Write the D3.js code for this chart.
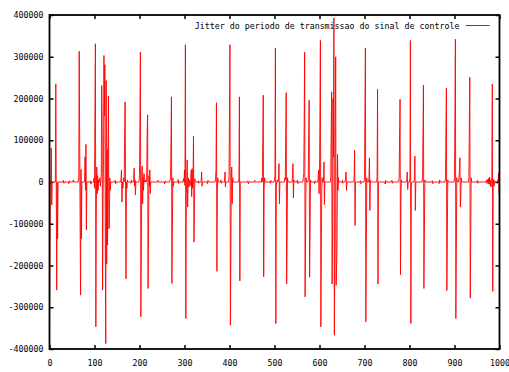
<!DOCTYPE html>
<html>
<head>
<meta charset="utf-8">
<script src="https://cdn.jsdelivr.net/npm/d3@7"></script>
<style>
  html, body { margin: 0; padding: 0; background: #fff; }
  svg { display: block; }
  text { font-family: "DejaVu Sans Mono", "Liberation Mono", monospace; font-size: 8.3px; fill: #000; }
</style>
</head>
<body>
<svg id="chart" width="509" height="372"></svg>
<script>
// ---- data ----
const seriesName = "Jitter do periodo de transmissao do sinal de controle";
const xTicks = [0, 100, 200, 300, 400, 500, 600, 700, 800, 900, 1000];
const yTicks = [-400000, -300000, -200000, -100000, 0, 100000, 200000, 300000, 400000];

// spike bursts: first sample index, then consecutive sample values
const burstStart = [0, 13, 64, 98, 158, 187, 199, 267, 297, 337, 368, 389, 398, 420,
  471, 499, 522, 539, 563, 574, 596, 624, 657, 676, 699, 709, 727, 776, 793, 828,
  879, 899, 931, 970, 995];
const burstValues = [
  [-344000, -130000, 0, 0, 81000, -55000, 0],
  [0, 235000, -20000, -259000, 0, -136000, 0],
  [0, 10000, 313000, 112000, -88000, -271000, 30000, -136000, 0, 0, 0, 0, 0, 0, 0, 60000, -20000, 90000, -115000, 0],
  [0, 10000, -15000, 172000, 331000, -347000, -60000, 36000, -28000, 15000, -20000, 5000, 0, 0, 10000, -10000, 0, 20000,
   231000, 156000, -259000, -30000, 40000, 303000, 158000, 281000, -160000, -387000, 243000, -196000, 77000, -151000,
   76000, 206000, -112000, -103000, 10000, -20000, 0],
  [0, 10000, 29000, -48000, 0, -15000, 0, 10000, 0, 116000, 192000, -10000, -232000, 0, -15000, 5000, 0],
  [0, 33000, -10000, 5000, -31000, 0],
  [0, 15000, 160000, 311000, -323000, -163000, 20000, 38000, -52000, 10000, -20000, 20000, 0, 0, 0, 5000, 0, 10000,
   116000, 161000, -255000, -132000, 15000, -10000, 29000, -28000, 0],
  [0, 5000, 10000, 108000, 204000, -243000, -120000, 10000, -10000, 0],
  [0, 8000, 0, 29000, -8000, 329000, -327000, -30000, 8000, 53000, -60000, 0, 10000, -12000, 4000, 0, -8000, 8000,
   29000, -35000, 32000, -15000, 8000, 110000, -144000, -76000, 8000, 0],
  [0, 24000, -10000, 0],
  [0, 10000, 29000, 190000, -214000, -20000, 10000, 0],
  [0, 24000, -12000, 0],
  [0, 15000, 172000, 329000, -343000, -176000, 10000, 36000, -52000, 10000, 0],
  [0, 10000, 204000, -237000, 0],
  [0, 10000, 0, 108000, 208000, -227000, -15000, 10000, 0],
  [0, 5000, 15000, 321000, -339000, -10000, 0, 5000, 0, 0, 10000, 44000, -52000, 0],
  [0, 10000, 5000, 116000, 214000, -244000, -124000, 10000, 0],
  [0, 10000, 44000, -38000, 5000, 0],
  [0, 10000, 20000, 136000, 311000, -275000, -140000, 10000, 0],
  [0, 5000, 112000, 196000, -228000, -120000, 5000, 0],
  [0, 10000, 29000, -28000, 15000, 172000, 339000, -347000, -176000, -20000, 10000, 0, 0, 0, 48000, -54000, 0],
  [0, 10000, 116000, 216000, -244000, -126000, 200000, 60000, 393000, -367000, -200000, 136000, 300000, -247000,
   -204000, -150000, 66000, -20000, 10000, 0],
  [0, 10000, 24000, -20000, 0],
  [0, 10000, 76000, -104000, 0],
  [0, 10000, 172000, 321000, -335000, -172000, 10000, 0],
  [0, 10000, 58000, -68000, 5000, 0],
  [0, 10000, 222000, -244000, 0],
  [0, 10000, 110000, 198000, -222000, -32000, 5000, 0],
  [0, 5000, 24000, -18000, 0, 0, 0, 0, 10000, 339000, -339000, -10000, 0, 0, 0, 0, 0, 0, 10000, 62000, -68000, 0],
  [0, 10000, 124000, 232000, -255000, -136000, 5000, 0],
  [0, 10000, 124000, 225000, -260000, -136000, 5000, 0],
  [0, 10000, 172000, 342000, -327000, -176000, 10000, 0, 0, 0, 0, 10000, 29000, 58000, -60000, -30000, 10000, 0],
  [0, 10000, 136000, 251000, -278000, -140000, 10000, 0],
  [0, 4000, -3000, 6000, 2000, -5000, 9000, -4000, 12000, -8000, 5000, -12000, 3000, 10000, 235000, -262000,
   -8000, 6000, -10000, 3000, 0],
  [0, 5000, 0, 22000, -30000]
];

// small baseline wiggles
const noiseStart = [30, 42, 52, 90, 145, 180, 240, 255, 285, 330, 350, 380, 440, 455, 490, 550, 588, 650, 690, 745, 760, 850, 865, 950];
const noiseValues = [
  [0, 4000, -3000, 0], [0, -4000, 3000, 0], [0, 5000, 0], [0, 3000, -5000, 0],
  [0, 4000, -4000, 0], [0, -3000, 5000, 0], [0, 4000, 0], [0, -5000, 3000, 0],
  [0, 6000, -4000, 0], [0, 3000, -3000, 0], [0, -4000, 4000, 0], [0, 5000, -3000, 0],
  [0, 3000, -5000, 0], [0, 4000, 0], [0, -3000, 4000, 0], [0, 5000, -4000, 0],
  [0, -4000, 3000, 0], [0, 4000, -3000, 0], [0, 3000, -4000, 0], [0, -5000, 4000, 0],
  [0, 4000, -3000, 0], [0, 3000, -4000, 0], [0, -4000, 5000, 0], [0, 4000, -3000, 0]
];

// ---- build the sample list ----
const samples = [];
burstStart.forEach((s, k) => burstValues[k].forEach((v, j) => samples.push({ i: s + j, v })));
noiseStart.forEach((s, k) => noiseValues[k].forEach((v, j) => samples.push({ i: s + j, v })));
samples.sort((a, b) => a.i - b.i);

// ---- drawing ----
const svg = d3.select("#chart");
const L = 49.5, R = 499.5, T = 15, B = 349;

const x = d3.scaleLinear().domain([0, 1000]).range([L, R]);
const y = d3.scaleLinear().domain([-400000, 400000]).range([B, T]);
const fmt = d => String(d);

// axes with inward ticks
const gL = svg.append("g").attr("transform", `translate(${L},0)`)
  .call(d3.axisLeft(y).tickValues(yTicks).tickSize(-4).tickPadding(6).tickFormat(fmt));
const gR = svg.append("g").attr("transform", `translate(${R},0)`)
  .call(d3.axisRight(y).tickValues(yTicks).tickSize(-4).tickFormat(() => ""));
const gB = svg.append("g").attr("transform", `translate(0,${B})`)
  .call(d3.axisBottom(x).tickValues(xTicks).tickSize(-4).tickPadding(11.5).tickFormat(fmt));
const gT = svg.append("g").attr("transform", `translate(0,${T})`)
  .call(d3.axisTop(x).tickValues(xTicks).tickSize(-4).tickFormat(() => ""));
[gL, gR, gB, gT].forEach(g => {
  g.select(".domain").remove();
  g.selectAll(".tick line").attr("stroke", "#000").attr("stroke-width", 1.5);
  g.selectAll("text").attr("font-family", null).attr("font-size", null).attr("fill", "#000");
});

// legend
svg.append("text").attr("x", 459.5).attr("y", 29).attr("text-anchor", "end").text(seriesName);
svg.append("line").attr("x1", 465.5).attr("x2", 489.5).attr("y1", 25.5).attr("y2", 25.5)
  .attr("stroke", "#ff0000").attr("stroke-width", 1);

// series
const line = d3.line().x(d => x(d.i)).y(d => y(d.v));
svg.append("path").datum(samples).attr("d", line)
  .attr("fill", "none").attr("stroke", "#ff0000").attr("stroke-width", 0.9);

// frame
svg.append("rect").attr("x", L).attr("y", T).attr("width", R - L).attr("height", B - T)
  .attr("fill", "none").attr("stroke", "#000").attr("stroke-width", 1.8);
</script>
</body>
</html>
